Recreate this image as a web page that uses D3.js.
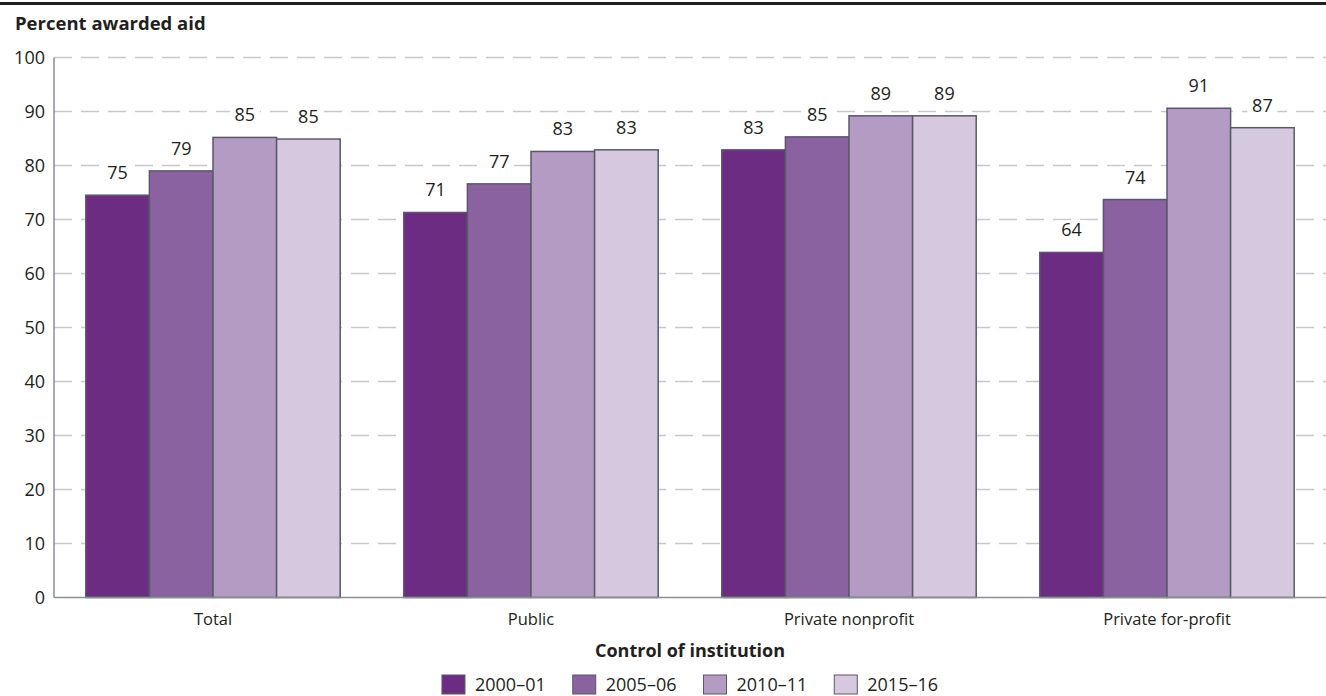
<!DOCTYPE html>
<html lang="en">
<head>
<meta charset="utf-8">
<script src="https://d3js.org/d3.v7.min.js"></script>
<style>
  body { margin: 0; background: #fff; }
  svg text { font-family: "Open Sans", Lato, sans-serif; fill: #231f20; }
</style>
</head>
<body>
<div id="chart"></div>
<script>
// data
var categories = ["Total", "Public", "Private nonprofit", "Private for-profit"];
var years = ["2000\u201301", "2005\u201306", "2010\u201311", "2015\u201316"];
var v2000 = [74.5, 71.3, 82.9, 63.9];
var v2005 = [79.0, 76.6, 85.3, 73.7];
var v2010 = [85.2, 82.6, 89.2, 90.6];
var v2015 = [84.9, 82.9, 89.2, 87.0];
var yTicks = [0, 10, 20, 30, 40, 50, 60, 70, 80, 90, 100];
var colors = ["#6b2c82", "#8a62a0", "#b49bc3", "#d5c8df"];

var series = [v2000, v2005, v2010, v2015];

var W = 1326, H = 696;
var plotL = 54, plotR = 1326, plotT = 57.5, plotB = 597.5;

var svg = d3.select("#chart").append("svg")
    .attr("width", W).attr("height", H);

// top rule
svg.append("rect").attr("x", 0).attr("y", 2).attr("width", W).attr("height", 3)
    .attr("fill", "#231f20");

svg.append("text").attr("x", 15).attr("y", 30)
    .style("font-size", "18.5px").style("font-weight", "bold")
    .text("Percent awarded aid");

var x0 = d3.scaleBand().domain(categories).range([plotL, plotR])
    .paddingInner(0.2).paddingOuter(0.1);
var x1 = d3.scaleBand().domain(d3.range(4)).range([0, x0.bandwidth()]);
var y = d3.scaleLinear().domain([0, 100]).range([plotB, plotT]);

// gridlines
svg.append("g").selectAll("line")
    .data(yTicks.filter(function(d) { return d > 0; }))
    .enter().append("line")
    .attr("x1", plotL).attr("x2", plotR)
    .attr("y1", function(d) { return y(d); })
    .attr("y2", function(d) { return y(d); })
    .attr("stroke", "#c8c8ce").attr("stroke-width", 1.5)
    .attr("stroke-dasharray", "18,9");

// y tick labels
svg.append("g").selectAll("text")
    .data(yTicks).enter().append("text")
    .attr("x", 45).attr("y", function(d) { return y(d) + 6; })
    .attr("text-anchor", "end").style("font-size", "18px")
    .text(function(d) { return d; });

// bars
var groups = svg.append("g").selectAll("g")
    .data(categories).enter().append("g")
    .attr("transform", function(d) { return "translate(" + x0(d) + ",0)"; });

function cells(d, i) { return series.map(function(s, k) { return {k: k, v: s[i]}; }); }

groups.selectAll("rect")
    .data(cells)
    .enter().append("rect")
    .attr("x", function(d) { return x1(d.k); })
    .attr("width", x1.bandwidth())
    .attr("y", function(d) { return y(d.v); })
    .attr("height", function(d) { return plotB - y(d.v); })
    .attr("fill", function(d) { return colors[d.k]; })
    .attr("stroke", "#585a68").attr("stroke-width", 1.5);

// value labels with white backing so the grid breaks round them
var labs = groups.selectAll("g.lab")
    .data(cells)
    .enter().append("g").attr("class", "lab");
labs.append("rect")
    .attr("x", function(d) { return x1(d.k) + x1.bandwidth() / 2 - 15; })
    .attr("y", function(d) { return y(d.v) - 32; })
    .attr("width", 30).attr("height", 19).attr("fill", "#fff");
labs.append("text")
    .attr("x", function(d) { return x1(d.k) + x1.bandwidth() / 2; })
    .attr("y", function(d) { return y(d.v) - 16; })
    .attr("text-anchor", "middle").style("font-size", "18px")
    .text(function(d) { return Math.round(d.v); });

// axis lines
svg.append("line").attr("x1", plotL).attr("x2", plotL).attr("y1", plotT).attr("y2", plotB)
    .attr("stroke", "#8a8e99").attr("stroke-width", 1.5);
svg.append("line").attr("x1", plotL).attr("x2", plotR).attr("y1", plotB).attr("y2", plotB)
    .attr("stroke", "#8a8e99").attr("stroke-width", 1.5);

// category labels
svg.append("g").selectAll("text")
    .data(categories).enter().append("text")
    .attr("x", function(d) { return x0(d) + x0.bandwidth() / 2; })
    .attr("y", 625).attr("text-anchor", "middle").style("font-size", "16.5px")
    .text(function(d) { return d; });

svg.append("text").attr("x", (plotL + plotR) / 2).attr("y", 657)
    .attr("text-anchor", "middle").style("font-size", "18px").style("font-weight", "bold")
    .text("Control of institution");

// legend, centred under the plot
var legG = svg.append("g");
var leg = legG.selectAll("g")
    .data(years).enter().append("g");
leg.append("rect").attr("y", 675).attr("width", 23).attr("height", 19)
    .attr("fill", function(d, i) { return colors[i]; })
    .attr("stroke", "#585a68").attr("stroke-width", 1);
leg.append("text").attr("x", 33).attr("y", 691).style("font-size", "18px")
    .text(function(d) { return d; });
var cx = 0;
leg.each(function() {
  var w = 33 + d3.select(this).select("text").node().getComputedTextLength();
  d3.select(this).attr("transform", "translate(" + cx + ",0)");
  cx += w + 27;
});
legG.attr("transform", "translate(" + ((plotL + plotR) / 2 - (cx - 27) / 2) + ",0)");
</script>
</body>
</html>
